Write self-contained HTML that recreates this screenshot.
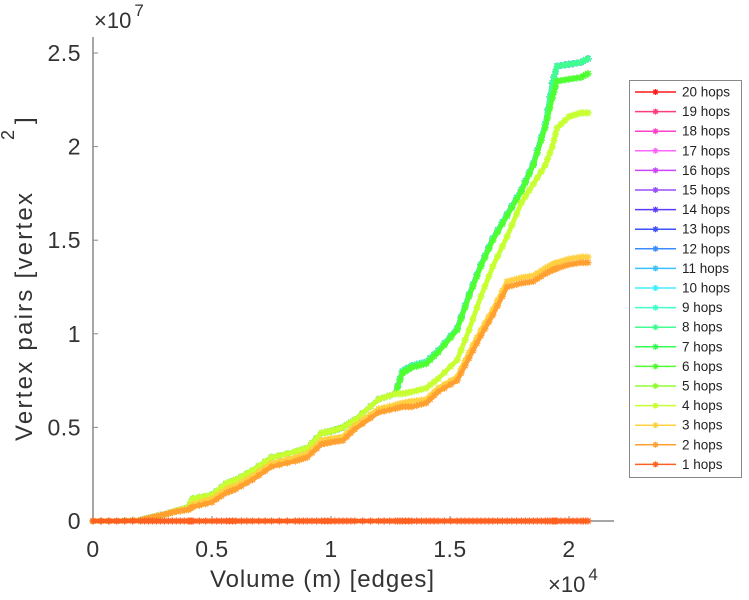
<!DOCTYPE html>
<html><head><meta charset="utf-8"><style>
body{margin:0;background:#fff;}
svg{display:block;font-family:"Liberation Sans",sans-serif;}
</style></head><body>
<svg id="chart" width="749" height="600">
<g id="axes"></g>
<g id="series"></g>
<g id="legend"></g>
</svg>
<script>
const xValues=[0,0.1,0.2,0.25,0.3,0.35,0.4,0.42,0.5,0.56,0.6,0.67,0.75,0.85,0.9,0.96,1.0,1.05,1.1,1.2,1.27,1.3,1.34,1.4,1.45,1.53,1.58,1.63,1.68,1.74,1.8,1.85,1.9,1.93,1.95,2.0,2.05,2.08];
const hop1=xValues.map(()=>0);
const hop2=[0,0,0.05,0.2,0.35,0.5,0.6,0.75,1.0,1.5,1.7,2.2,2.9,3.2,3.4,4.1,4.2,4.3,4.9,5.8,6.0,6.1,6.1,6.3,6.9,7.5,8.7,9.9,11.0,12.5,12.7,12.8,13.2,13.4,13.5,13.7,13.8,13.8];
const hop3=[0,0,0.05,0.2,0.35,0.55,0.65,0.9,1.2,1.7,1.9,2.4,3.1,3.4,3.6,4.3,4.4,4.5,5.1,6.0,6.2,6.3,6.4,6.5,7.1,7.7,9.0,10.2,11.3,12.8,13.0,13.1,13.5,13.7,13.8,14.0,14.1,14.1];
const hop4=[0,0,0.05,0.2,0.35,0.55,0.7,1.2,1.4,2.0,2.2,2.7,3.4,3.7,3.9,4.7,4.8,5.0,5.4,6.5,6.8,6.8,6.9,7.1,7.6,8.6,10.2,12.0,13.6,15.2,17.0,18.0,19.0,20.0,21.0,21.6,21.8,21.8];
const hop6=[0,0,0.05,0.2,0.35,0.55,0.7,1.2,1.4,2.0,2.2,2.7,3.4,3.7,3.9,4.7,4.8,5.0,5.4,6.5,6.8,7.9,8.2,8.4,9.0,10.2,12.0,13.6,15.0,16.3,17.6,19.0,21.0,22.6,23.5,23.6,23.7,23.9];
const hop8=[0,0,0.05,0.2,0.35,0.55,0.7,1.2,1.4,2.0,2.2,2.7,3.4,3.7,3.9,4.7,4.8,5.0,5.4,6.5,6.8,8.0,8.3,8.5,9.1,10.3,12.1,13.7,15.1,16.4,17.7,19.1,21.2,23.4,24.3,24.4,24.5,24.7];
const seriesLabels=["20 hops","19 hops","18 hops","17 hops","16 hops","15 hops","14 hops","13 hops","12 hops","11 hops","10 hops","9 hops","8 hops","7 hops","6 hops","5 hops","4 hops","3 hops","2 hops","1 hops"];
const seriesData=[hop8,hop8,hop8,hop8,hop8,hop8,hop8,hop8,hop8,hop8,hop8,hop8,hop8,hop6,hop6,hop4,hop4,hop3,hop2,hop1];
const seriesColors=["#ff1a1a","#ff3c78","#ff40c8","#ff66ff","#cc44ff","#9a4dff","#5a3cff","#3c50ff","#3c8cff","#3cc0ff","#40eeff","#40ffc8","#40ff90","#30ff50","#50ff30","#90ff30","#c8ff30","#ffd040","#ffa030","#ff6020"];
const xTicks=[0,0.5,1,1.5,2];const xTickLabels=["0","0.5","1","1.5","2"];
const yTicks=[0,5,10,15,20,25];const yTickLabels=["0","0.5","1","1.5","2","2.5"];

const X0=93,XS=238,Y0=521,YS=18.72;
const sx=v=>X0+v*XS, sy=v=>Y0-v*YS;
const NS="http://www.w3.org/2000/svg";
function mk(t,a,p){const e=document.createElementNS(NS,t);for(const k in a)e.setAttribute(k,a[k]);p.appendChild(e);return e;}
const axes=document.getElementById('axes');
let e=mk('line',{x1:X0,y1:37,x2:X0,y2:Y0,stroke:'#888','stroke-width':1.5},axes);


e=mk('line',{x1:X0,y1:Y0,x2:614,y2:Y0,stroke:'#888','stroke-width':1.5},axes);


xTicks.forEach((v,i)=>{mk('line',{x1:sx(v),y1:Y0,x2:sx(v),y2:Y0-5,stroke:'#888'},axes);
 const t=mk('text',{x:sx(v),y:557,'text-anchor':'middle','font-size':23,'letter-spacing':0.5,fill:'#333'},axes);t.textContent=xTickLabels[i];
 
 });
yTicks.forEach((v,i)=>{mk('line',{x1:X0,y1:sy(v),x2:X0+5,y2:sy(v),stroke:'#888'},axes);
 const t=mk('text',{x:81,y:sy(v)+8,'text-anchor':'end','font-size':23,'letter-spacing':0.5,fill:'#333'},axes);t.textContent=yTickLabels[i];
 
 });
axes.insertAdjacentHTML('beforeend',
 '<text x="210" y="587" textLength="224" font-size="24" fill="#333">Volume (m) [edges]</text>'+
 '<text x="548" y="592" font-size="22" fill="#333">×10<tspan font-size="17" dy="-12" dx="3">4</tspan></text>'+
 '<text x="94" y="28" font-size="22" fill="#333">×10<tspan font-size="17" dy="-12" dx="3">7</tspan></text>'+
 '<text transform="translate(32,441) rotate(-90)" textLength="248" font-size="24" fill="#333">Vertex pairs [vertex</text>'+
 '<text transform="translate(14,140) rotate(-90)" font-size="18" fill="#333">2</text>'+
 '<text transform="translate(32,124) rotate(-90)" font-size="24" fill="#333">]</text>');
const sg=document.getElementById('series');
function star(g,x,y,c,r){mk('path',{d:`M${x-r} ${y}h${2*r}M${x} ${y-r}v${2*r}M${x-r*0.72} ${y-r*0.72}l${r*1.44} ${r*1.44}M${x-r*0.72} ${y+r*0.72}l${r*1.44} ${-r*1.44}`,stroke:c,'stroke-width':1.3,fill:'none'},g);}
seriesData.forEach((d,i)=>{
 const g=mk('g',{},sg);
 
 
 mk('polyline',{points:d.map((v,j)=>sx(xValues[j])+','+sy(v)).join(' '),fill:'none',stroke:seriesColors[i],'stroke-width':4.5,'stroke-linejoin':'round'},g);
 d.forEach((v,j)=>{star(g,sx(xValues[j]),sy(v),seriesColors[i],3.5);
   if(j<d.length-1){for(let k=1;k<3;k++){const f=k/3;star(g,sx(xValues[j]+(xValues[j+1]-xValues[j])*f),sy(v+(d[j+1]-v)*f),seriesColors[i],3.5);}}});
});
const lg=document.getElementById('legend');
e=mk('rect',{x:629.5,y:80.5,width:112,height:397,fill:'#fff',stroke:'#888'},lg);


seriesLabels.forEach((s,i)=>{const y=92+i*19.6;const g=mk('g',{},lg);
 
 
 mk('line',{x1:635,y1:y,x2:676,y2:y,stroke:seriesColors[i],'stroke-width':1.5},g);
 star(g,655.5,y,seriesColors[i],3);
 const t=mk('text',{x:682,y:y+4.5,'font-size':13.5,fill:'#222'},g);t.textContent=s;});
</script>
</body></html>
